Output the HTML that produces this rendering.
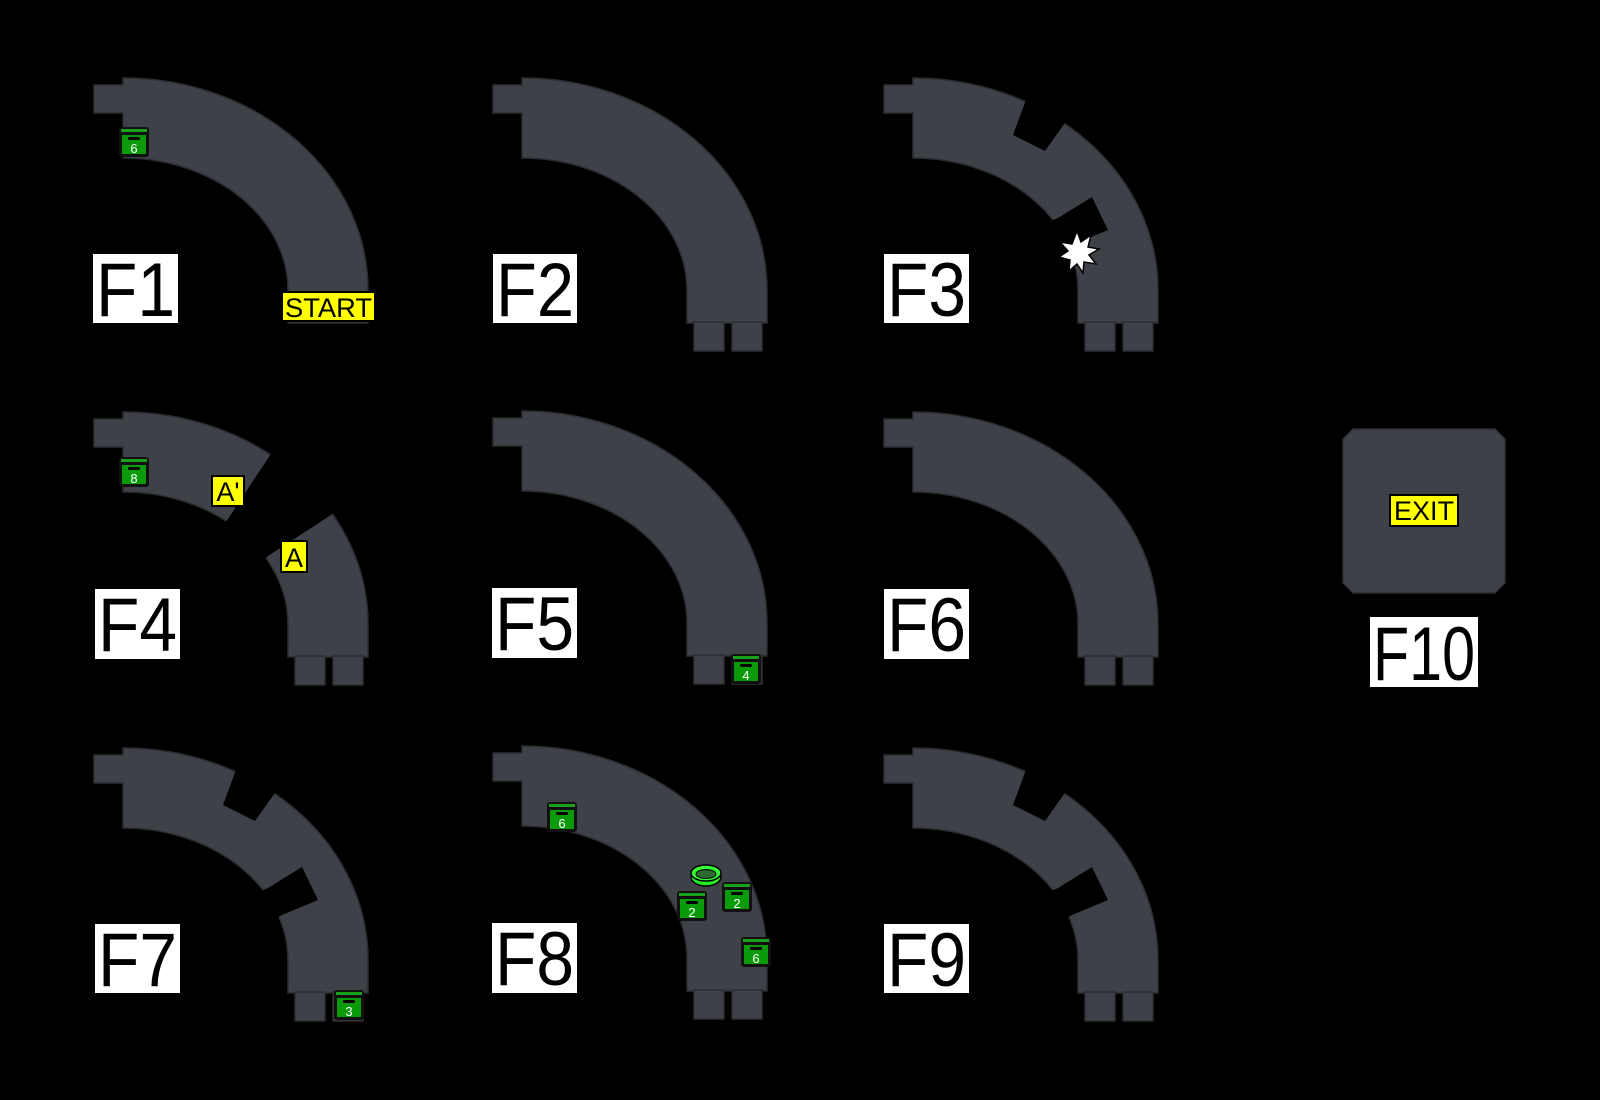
<!DOCTYPE html>
<html><head><meta charset="utf-8"><style>
html,body{margin:0;padding:0;background:#000;}
svg{display:block}
text{font-family:"Liberation Sans",sans-serif}
</style></head><body>
<svg width="1600" height="1100" viewBox="0 0 1600 1100" xmlns="http://www.w3.org/2000/svg">
<defs>
<path id="band" d="M94,85 H123 V78 A245,212 0 0 1 368,290 V323 H288 V290 A165,132 0 0 0 123,158 V113 H94 Z" fill="#3e4147" stroke="#2b2d31" stroke-width="1.5"/>
<g id="legs" fill="#3e4147" stroke="#2b2d31" stroke-width="1.5"><rect x="295" y="322" width="30" height="29"/><rect x="333" y="322" width="30" height="29"/></g>
<g id="cuts" fill="#000"><polygon points="237,97 223,135 255,151 277,120 300,90 250,60"/><polygon points="268,218 302,197 318,230 282,245 250,262 238,230"/></g>
</defs>
<rect width="1600" height="1100" fill="#000"/>

<g><use href="#band"/></g>
<g transform="translate(399,0)"><use href="#band"/><use href="#legs"/></g>
<g transform="translate(790,0)"><use href="#band"/><use href="#legs"/><use href="#cuts"/>
<polygon points="287,231 291,242 301,235 298,247 309,249 299,255 306,264 294,262 293,273 287,264 279,271 280,260 269,257 278,251 270,242 282,244" fill="#fff" stroke="#000" stroke-width="1.5"/></g>
<g transform="translate(0,334)"><use href="#band"/><use href="#legs"/>
<polygon points="222,194 290,91 420,91 420,150 334,179 268,222 250,240" fill="#000"/></g>
<g transform="translate(399,333)"><use href="#band"/><use href="#legs"/></g>
<g transform="translate(790,334)"><use href="#band"/><use href="#legs"/></g>
<g transform="translate(0,670)"><use href="#band"/><use href="#legs"/><use href="#cuts"/></g>
<g transform="translate(399,668)"><use href="#band"/><use href="#legs"/></g>
<g transform="translate(790,670)"><use href="#band"/><use href="#legs"/><use href="#cuts"/></g>

<polygon points="1353,429 1495,429 1505,439 1505,583 1495,593 1353,593 1343,583 1343,439" fill="#3e4147" stroke="#2b2d31" stroke-width="1.5"/>

<g>
<rect x="282" y="292" width="93" height="29" fill="#ffff00" stroke="#000" stroke-width="2"/>
<text x="328.5" y="317" font-size="27" text-anchor="middle" textLength="87" lengthAdjust="spacingAndGlyphs">START</text>
<rect x="212" y="476" width="32" height="30" fill="#ffff00" stroke="#000" stroke-width="2"/>
<text x="228" y="501" font-size="27" text-anchor="middle">A'</text>
<rect x="281" y="541" width="26" height="31" fill="#ffff00" stroke="#000" stroke-width="2"/>
<text x="294" y="567" font-size="27" text-anchor="middle">A</text>
<rect x="1390" y="495" width="68" height="31" fill="#ffff00" stroke="#000" stroke-width="2"/>
<text x="1424" y="520" font-size="27" text-anchor="middle" textLength="60" lengthAdjust="spacingAndGlyphs">EXIT</text>
</g>

<g fill="#000" font-size="76">
<rect x="93" y="254" width="85" height="69" fill="#fff"/><text x="96" y="316" textLength="79" lengthAdjust="spacingAndGlyphs">F1</text>
<rect x="493" y="254" width="84" height="69" fill="#fff"/><text x="496" y="316" textLength="78" lengthAdjust="spacingAndGlyphs">F2</text>
<rect x="884" y="254" width="85" height="69" fill="#fff"/><text x="887" y="316" textLength="79" lengthAdjust="spacingAndGlyphs">F3</text>
<rect x="95" y="589" width="85" height="70" fill="#fff"/><text x="98" y="651" textLength="79" lengthAdjust="spacingAndGlyphs">F4</text>
<rect x="492" y="588" width="85" height="70" fill="#fff"/><text x="495" y="650" textLength="79" lengthAdjust="spacingAndGlyphs">F5</text>
<rect x="884" y="589" width="85" height="70" fill="#fff"/><text x="887" y="651" textLength="79" lengthAdjust="spacingAndGlyphs">F6</text>
<rect x="95" y="924" width="85" height="69" fill="#fff"/><text x="98" y="986" textLength="79" lengthAdjust="spacingAndGlyphs">F7</text>
<rect x="492" y="923" width="85" height="70" fill="#fff"/><text x="495" y="985" textLength="79" lengthAdjust="spacingAndGlyphs">F8</text>
<rect x="884" y="924" width="85" height="69" fill="#fff"/><text x="887" y="986" textLength="79" lengthAdjust="spacingAndGlyphs">F9</text>
<rect x="1370" y="617" width="108" height="70" fill="#fff"/><text x="1373" y="680" textLength="102" lengthAdjust="spacingAndGlyphs">F10</text>
</g>

<g font-size="13" text-anchor="middle">
<g transform="translate(119,127)"><rect width="30" height="30" rx="3" fill="#111"/><rect x="2" y="2" width="26" height="3" fill="#1aa01a"/><rect x="3" y="8" width="24" height="19" fill="#0a9a0a"/><rect x="9" y="10" width="12" height="3" rx="1.5" fill="#000"/><text x="15" y="26" fill="#fff">6</text></g>
<g transform="translate(119,457)"><rect width="30" height="30" rx="3" fill="#111"/><rect x="2" y="2" width="26" height="3" fill="#1aa01a"/><rect x="3" y="8" width="24" height="19" fill="#0a9a0a"/><rect x="9" y="10" width="12" height="3" rx="1.5" fill="#000"/><text x="15" y="26" fill="#fff">8</text></g>
<g transform="translate(731,654)"><rect width="30" height="30" rx="3" fill="#111"/><rect x="2" y="2" width="26" height="3" fill="#1aa01a"/><rect x="3" y="8" width="24" height="19" fill="#0a9a0a"/><rect x="9" y="10" width="12" height="3" rx="1.5" fill="#000"/><text x="15" y="26" fill="#fff">4</text></g>
<g transform="translate(334,990)"><rect width="30" height="30" rx="3" fill="#111"/><rect x="2" y="2" width="26" height="3" fill="#1aa01a"/><rect x="3" y="8" width="24" height="19" fill="#0a9a0a"/><rect x="9" y="10" width="12" height="3" rx="1.5" fill="#000"/><text x="15" y="26" fill="#fff">3</text></g>
<g transform="translate(547,802)"><rect width="30" height="30" rx="3" fill="#111"/><rect x="2" y="2" width="26" height="3" fill="#1aa01a"/><rect x="3" y="8" width="24" height="19" fill="#0a9a0a"/><rect x="9" y="10" width="12" height="3" rx="1.5" fill="#000"/><text x="15" y="26" fill="#fff">6</text></g>
<g transform="translate(677,891)"><rect width="30" height="30" rx="3" fill="#111"/><rect x="2" y="2" width="26" height="3" fill="#1aa01a"/><rect x="3" y="8" width="24" height="19" fill="#0a9a0a"/><rect x="9" y="10" width="12" height="3" rx="1.5" fill="#000"/><text x="15" y="26" fill="#fff">2</text></g>
<g transform="translate(722,882)"><rect width="30" height="30" rx="3" fill="#111"/><rect x="2" y="2" width="26" height="3" fill="#1aa01a"/><rect x="3" y="8" width="24" height="19" fill="#0a9a0a"/><rect x="9" y="10" width="12" height="3" rx="1.5" fill="#000"/><text x="15" y="26" fill="#fff">2</text></g>
<g transform="translate(741,937)"><rect width="30" height="30" rx="3" fill="#111"/><rect x="2" y="2" width="26" height="3" fill="#1aa01a"/><rect x="3" y="8" width="24" height="19" fill="#0a9a0a"/><rect x="9" y="10" width="12" height="3" rx="1.5" fill="#000"/><text x="15" y="26" fill="#fff">6</text></g>
</g>
<g transform="translate(706,874)">
<ellipse cx="0" cy="3" rx="15" ry="9" fill="#22ee22" stroke="#000" stroke-width="1.5"/>
<ellipse cx="0" cy="-1" rx="15" ry="8" fill="#33ff33" stroke="#000" stroke-width="1.5"/>
<ellipse cx="0" cy="0" rx="10" ry="4.5" fill="#2a6a2a" stroke="#000" stroke-width="1"/>
</g>
</svg>
</body></html>
